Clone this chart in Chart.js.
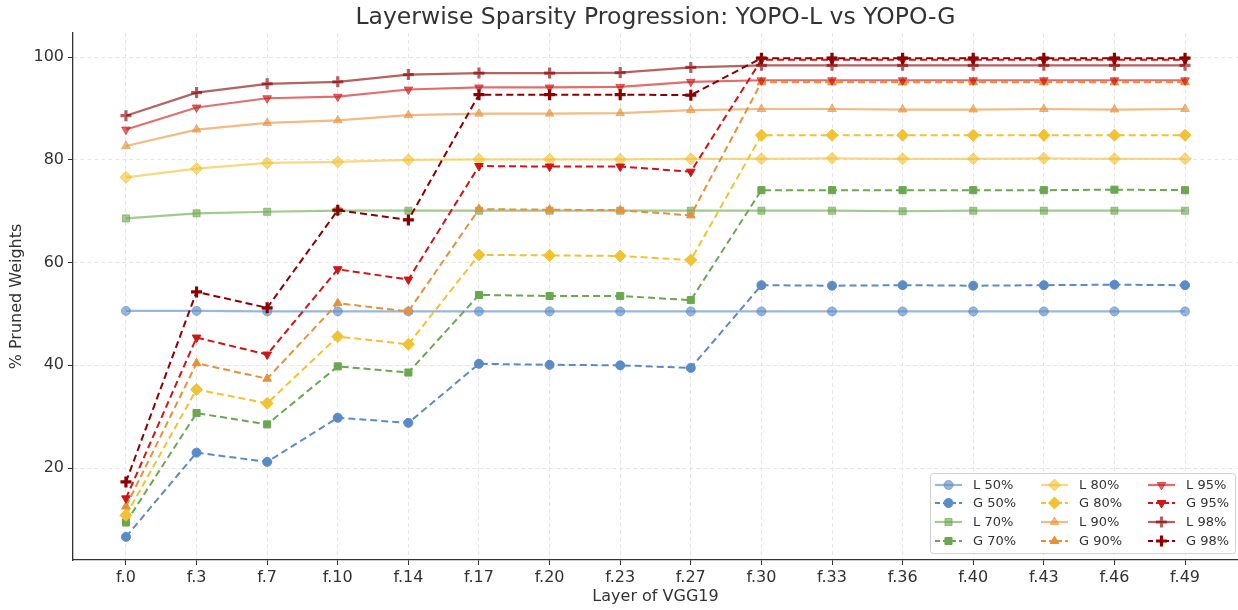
<!DOCTYPE html>
<html>
<head>
<meta charset="utf-8">
<script src="https://cdn.jsdelivr.net/npm/chart.js@4.4.1/dist/chart.umd.min.js"></script>
<style>
  html, body { margin: 0; padding: 0; background: #fff; overflow: hidden; }
  canvas { display: block; }
</style>
</head>
<body>
<canvas id="spChart" width="1238" height="610"></canvas>
<script>
var layers = ["f.0","f.3","f.7","f.10","f.14","f.17","f.20","f.23","f.27","f.30","f.33","f.36","f.40","f.43","f.46","f.49"];

var l50 = [50.6,50.6,50.5,50.5,50.5,50.5,50.5,50.5,50.5,50.5,50.5,50.5,50.5,50.5,50.5,50.5];
var g50 = [6.6,23.0,21.2,29.8,28.8,40.3,40.1,40.0,39.5,55.6,55.5,55.6,55.5,55.6,55.7,55.6];
var l70 = [68.6,69.6,69.9,70.1,70.1,70.1,70.1,70.1,70.1,70.1,70.1,70.0,70.1,70.1,70.1,70.1];
var g70 = [9.4,30.7,28.5,39.8,38.6,53.7,53.5,53.5,52.7,74.1,74.1,74.1,74.1,74.1,74.2,74.1];
var l80 = [76.6,78.3,79.4,79.6,80.0,80.1,80.1,80.1,80.2,80.2,80.3,80.2,80.2,80.3,80.2,80.2];
var g80 = [10.8,35.3,32.6,45.6,44.1,61.5,61.4,61.3,60.5,84.8,84.8,84.8,84.8,84.8,84.8,84.8];
var l90 = [82.7,85.9,87.2,87.7,88.7,89.0,89.0,89.1,89.7,89.9,89.9,89.8,89.8,89.9,89.8,89.9];
var g90 = [12.5,40.4,37.4,52.1,50.5,70.4,70.3,70.2,69.2,95.1,95.1,95.1,95.1,95.1,95.1,95.1];
var l95 = [85.9,90.2,92.0,92.3,93.7,94.1,94.1,94.2,95.2,95.5,95.5,95.5,95.5,95.5,95.5,95.5];
var g95 = [14.1,45.4,42.1,58.7,56.7,78.8,78.7,78.7,77.7,99.5,99.5,99.5,99.5,99.5,99.5,99.5];
var l98 = [88.6,93.1,94.8,95.2,96.6,96.9,96.9,97.0,98.0,98.4,98.4,98.4,98.4,98.4,98.4,98.4];
var g98 = [17.3,54.3,51.2,70.2,68.3,92.7,92.7,92.7,92.6,99.8,99.8,99.8,99.8,99.8,99.8,99.8];

var yTicks = [20,40,60,80,100];
var titleText = "Layerwise Sparsity Progression: YOPO-L vs YOPO-G";

// rgb for each sparsity level
var cBlue = [91,139,199];
var cGreen = [106,168,79];
var cYellow = [241,194,50];
var cOrange = [230,145,56];
var cRed = [210,20,20];
var cDark = [139,0,0];

function rgba(c, a) {
    return "rgba(" + c[0] + "," + c[1] + "," + c[2] + "," + a + ")";
}

function pts(arr) {
    var out = [];
    for (var i = 0; i < arr.length; i++) {
        out.push({x: i, y: arr[i]});
    }
    return out;
}

function mkSet(label, vals, col, isG, style, rad, rot) {
    var a = isG ? 1 : 0.62;
    var isCross = style === "cross";
    return {
        label: label,
        data: pts(vals),
        borderColor: rgba(col, a),
        backgroundColor: rgba(col, a),
        pointBackgroundColor: rgba(col, a),
        pointBorderColor: rgba(col, a),
        borderWidth: isG ? 2 : 2.2,
        borderDash: isG ? [7, 4] : [],
        pointStyle: style,
        pointRadius: rad,
        pointRotation: rot || 0,
        pointBorderWidth: isCross ? 3.2 : 1,
        pointHoverRadius: rad,
        fill: false,
        tension: 0
    };
}

var sets = [
    mkSet("L 50%", l50, cBlue, false, "circle", 4.5),
    mkSet("G 50%", g50, cBlue, true, "circle", 4.5),
    mkSet("L 70%", l70, cGreen, false, "rect", 5),
    mkSet("G 70%", g70, cGreen, true, "rect", 5),
    mkSet("L 80%", l80, cYellow, false, "rectRot", 6),
    mkSet("G 80%", g80, cYellow, true, "rectRot", 6),
    mkSet("L 90%", l90, cOrange, false, "triangle", 5),
    mkSet("G 90%", g90, cOrange, true, "triangle", 5),
    mkSet("L 95%", l95, cRed, false, "triangle", 5, 180),
    mkSet("G 95%", g95, cRed, true, "triangle", 5, 180),
    mkSet("L 98%", l98, cDark, false, "cross", 5.5),
    mkSet("G 98%", g98, cDark, true, "cross", 5.5)
];
// matplotlib order: later series on top
for (var k = 0; k < sets.length; k++) sets[k].order = sets.length - k;

var FONT = "'DejaVu Sans', sans-serif";

function noPad() {
    return { left: 0, right: 0, top: 0, bottom: 0 };
}

// title centred over the plot area, like matplotlib
var axTitle = {
    id: "axTitle",
    afterDraw: function(chart) {
        var ctx = chart.ctx;
        var a = chart.chartArea;
        ctx.save();
        ctx.font = "23.5px " + FONT;
        ctx.fillStyle = "#333";
        ctx.textAlign = "center";
        ctx.textBaseline = "middle";
        ctx.fillText(titleText, (a.left + a.right) / 2, 18);
        ctx.restore();
    }
};

// legend drawn inside the plot, 3 columns x 4 rows
var boxLegend = {
    id: "boxLegend",
    afterDraw: function(chart) {
        var ctx = chart.ctx;
        var ds = chart.data.datasets;
        var bx = 930, by = 473, bw = 305, bh = 80;
        ctx.save();
        ctx.fillStyle = "rgba(255,255,255,0.85)";
        ctx.strokeStyle = "#d0d0d0";
        ctx.lineWidth = 1;
        ctx.beginPath();
        ctx.roundRect(bx + 0.5, by + 0.5, bw, bh, 3);
        ctx.fill();
        ctx.stroke();
        var colX = [935, 1041, 1148];
        var rowY = [485, 503, 522, 541];
        ctx.font = "13px " + FONT;
        ctx.textBaseline = "middle";
        for (var i = 0; i < ds.length; i++) {
            var d = ds[i];
            var x0 = colX[Math.floor(i / 4)];
            var y0 = rowY[i % 4];
            ctx.strokeStyle = d.borderColor;
            ctx.lineWidth = d.borderWidth;
            ctx.setLineDash(d.borderDash.length ? [5, 3] : []);
            ctx.beginPath();
            ctx.moveTo(x0, y0);
            ctx.lineTo(x0 + 27, y0);
            ctx.stroke();
            ctx.setLineDash([]);
            ctx.fillStyle = d.pointBackgroundColor;
            ctx.strokeStyle = d.pointBorderColor;
            ctx.lineWidth = d.pointBorderWidth;
            Chart.helpers.drawPoint(ctx, {
                pointStyle: d.pointStyle,
                radius: d.pointRadius,
                rotation: d.pointRotation,
                borderWidth: d.pointBorderWidth
            }, x0 + 13.5, y0);
            ctx.fillStyle = "#333";
            ctx.fillText(d.label, x0 + 38, y0 + 1);
        }
        ctx.restore();
    }
};

var spChart = new Chart(document.getElementById("spChart"), {
    type: "line",
    data: { datasets: sets },
    options: {
        responsive: false,
        animation: false,
        layout: { autoPadding: false, padding: { left: 0, right: 0, top: 33, bottom: 0 } },
        plugins: {
            legend: { display: false },
            tooltip: { enabled: false },
            title: { display: false }
        },
        scales: {
            x: {
                type: "linear",
                min: -0.75,
                max: 15.75,
                afterBuildTicks: function(scale) {
                    scale.ticks = layers.map(function(_, i) { return { value: i }; });
                },
                afterFit: function(scale) {
                    scale.height = 50;
                    scale.getPadding = noPad;
                },
                ticks: {
                    color: "#333",
                    font: { family: FONT, size: 16 },
                    padding: 3,
                    maxRotation: 0,
                    autoSkip: false,
                    callback: function(v) { return layers[v]; }
                },
                grid: {
                    color: "#e6e6e6",
                    lineWidth: 1,
                    tickColor: "#333",
                    tickLength: 5,
                    tickWidth: 1
                },
                border: { display: true, color: "#333", width: 1.3, dash: [4, 3] },
                title: {
                    display: true,
                    text: "Layer of VGG19",
                    color: "#333",
                    font: { family: FONT, size: 16 },
                    padding: { top: 0, bottom: 4 }
                }
            },
            y: {
                min: 2.1,
                max: 104.7,
                afterBuildTicks: function(scale) {
                    scale.ticks = yTicks.map(function(v) { return { value: v }; });
                },
                afterFit: function(scale) {
                    scale.width = 73;
                    scale.getPadding = noPad;
                },
                ticks: {
                    color: "#333",
                    font: { family: FONT, size: 16 },
                    padding: 4
                },
                grid: {
                    color: "#e6e6e6",
                    lineWidth: 1,
                    tickColor: "#333",
                    tickLength: 5,
                    tickWidth: 1
                },
                border: { display: true, color: "#333", width: 1.3, dash: [4, 3] },
                title: {
                    display: true,
                    text: "% Pruned Weights",
                    color: "#333",
                    font: { family: FONT, size: 16 },
                    padding: { top: 7, bottom: 6 }
                }
            }
        }
    },
    plugins: [axTitle, boxLegend]
});
</script>
</body>
</html>
